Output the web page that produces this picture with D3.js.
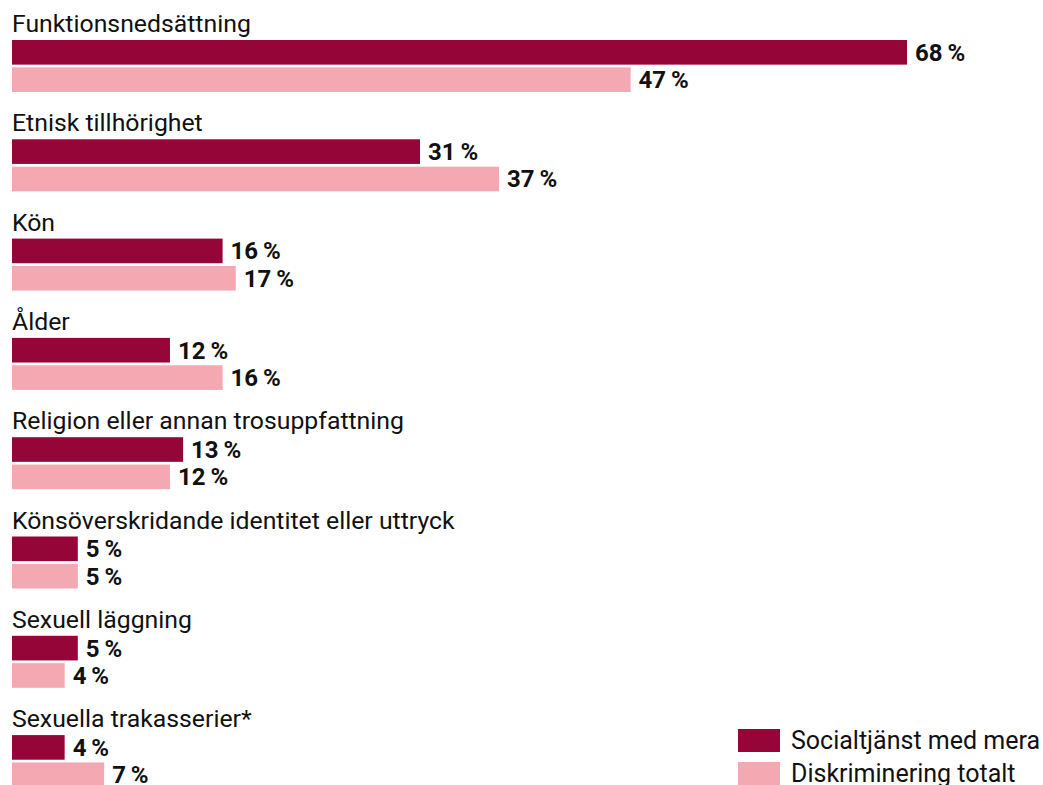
<!DOCTYPE html>
<html><head><meta charset="utf-8">
<script src="https://cdn.jsdelivr.net/npm/d3@7"></script>
<style>body{margin:0;background:#fff}svg{display:block}</style>
</head><body>
<svg id="c" width="1043" height="785"></svg>
<script>
const categories = ["Funktionsnedsättning","Etnisk tillhörighet","Kön","Ålder","Religion eller annan trosuppfattning","Könsöverskridande identitet eller uttryck","Sexuell läggning","Sexuella trakasserier*"];
const seriesNames = ["Socialtjänst med mera","Diskriminering totalt"];
const socialtjanst = [68,31,16,12,13,5,5,4];
const diskriminering = [47,37,17,16,12,5,4,7];
const colors = ["#950537","#f4a8b1"];

const svg = d3.select("#c");
const font = "Roboto, 'Noto Sans', sans-serif";
const x = d3.scaleLinear().domain([0,68]).range([12,907]);
const y = d3.scaleBand().domain(categories).range([40, 40+99.3*8]).paddingInner(0).paddingOuter(0);
const inner = d3.scaleBand().domain(seriesNames).range([0,52]).paddingInner(0.1);

const data = categories.map((c,i)=>({cat:c, vals:[socialtjanst[i], diskriminering[i]]}));

const g = svg.selectAll("g.grp").data(data).join("g").attr("class","grp")
  .attr("transform", d=>`translate(0,${y(d.cat)})`);

g.append("text").attr("x",12).attr("y",-8)
  .attr("font-family",font).attr("font-size",24.8).attr("fill","#111")
  .text(d=>d.cat);

const bars = g.selectAll("g.b").data(d=>d.vals.map((v,j)=>({v, s:seriesNames[j], j}))).join("g").attr("class","b");
bars.append("rect").attr("x",x(0)).attr("y",d=>inner(d.s))
  .attr("width",d=>x(d.v)-x(0)).attr("height",inner.bandwidth())
  .attr("fill",d=>colors[d.j]);
bars.append("text").attr("x",d=>x(d.v)+8).attr("y",d=>inner(d.s)+inner.bandwidth()/2+8.5)
  .attr("font-family",font).attr("font-size",24).attr("font-weight",700).attr("fill","#111")
  .text(d=>d.v+"\u2009%");

const leg = svg.selectAll("g.leg").data(seriesNames).join("g").attr("class","leg")
  .attr("transform",(d,i)=>`translate(738,${729+i*33})`);
leg.append("rect").attr("width",42).attr("height",23).attr("fill",(d,i)=>colors[i]);
leg.append("text").attr("x",53).attr("y",20).attr("font-family",font).attr("font-size",25).attr("fill","#111").text(d=>d);
</script>
</body></html>
